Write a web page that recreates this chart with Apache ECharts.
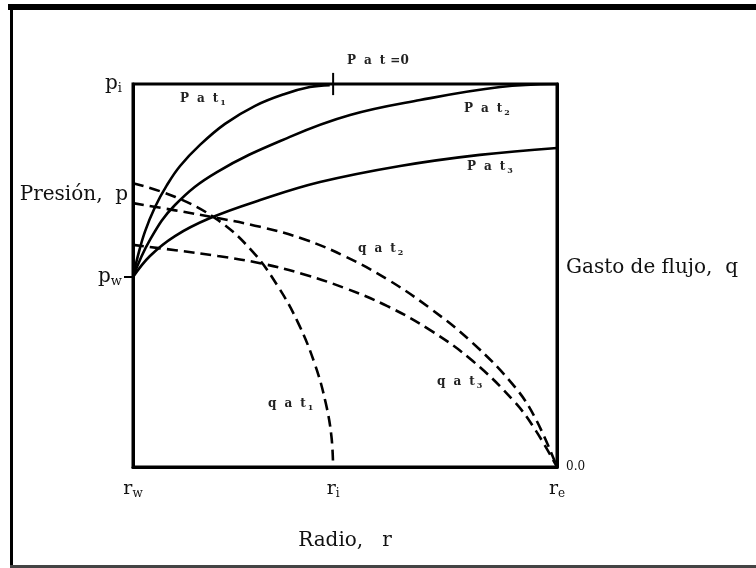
<!DOCTYPE html>
<html>
<head>
<meta charset="utf-8">
<style>
  html, body { margin: 0; padding: 0; background: #fff; }
  #chart { width: 756px; height: 568px; }
</style>
<script src="https://cdn.jsdelivr.net/npm/echarts@6/dist/echarts.min.js"></script>
</head>
<body>
<div id="chart"></div>
<script>
// Radius is normalised: r_w = 0, r_e = 1. Pressure/flow normalised: 0 at the bottom, p_i = 1.
const radiusTicks = [0, 0.472, 1];           // r_w, r_i, r_e
const radiusTickNames = ['w', 'i', 'e'];
const pressureTicks = [0.496, 0.71, 1];      // p_w, "Presión, p", p_i
const flowTicks = [0, 0.52];                 // 0.0, "Gasto de flujo, q"

// Pressure profiles at three times (solid)
const patOne = [[0,0.496],[0.012,0.553],[0.028,0.614],[0.052,0.679],[0.080,0.736],[0.111,0.786],[0.158,0.841],[0.217,0.896],[0.288,0.943],[0.358,0.974],[0.417,0.992],[0.464,0.997]];
const patTwo = [[0,0.496],[0.040,0.593],[0.099,0.684],[0.198,0.770],[0.370,0.862],[0.512,0.919],[0.677,0.958],[0.866,0.992],[1,1]];
const patThree = [[0,0.496],[0.040,0.551],[0.099,0.603],[0.182,0.650],[0.300,0.697],[0.441,0.744],[0.630,0.786],[0.818,0.815],[1,0.833]];

// Flow-rate profiles at the same times (dashed)
const qatOne = [[0,0.741],[0.1,0.705],[0.2,0.645],[0.28,0.565],[0.34,0.475],[0.39,0.375],[0.43,0.265],[0.455,0.165],[0.468,0.080],[0.472,0]];
const qatTwo = [[0,0.689],[0.1,0.670],[0.2,0.650],[0.3,0.627],[0.4,0.596],[0.5,0.550],[0.6,0.490],[0.7,0.415],[0.8,0.325],[0.9,0.210],[0.95,0.125],[1,0]];
const qatThree = [[0,0.580],[0.1,0.566],[0.2,0.551],[0.3,0.532],[0.4,0.504],[0.5,0.467],[0.6,0.420],[0.7,0.358],[0.8,0.278],[0.9,0.170],[0.95,0.095],[1,0]];

// Short mark on the upper edge where the first pressure front reaches p_i
const frontMark = [[0.472, 1.029], [0.472, 0.971]];

const serif = '"DejaVu Serif", "Liberation Serif", serif';

function near(a, b) { return Math.abs(a - b) < 1e-6; }

function solid(data) {
  return { type: 'line', data, smooth: 0.4, showSymbol: false, silent: true,
    lineStyle: { color: '#000', width: 2.6, type: 'solid' } };
}
function dashed(data) {
  return { type: 'line', data, smooth: 0.4, showSymbol: false, silent: true,
    lineStyle: { color: '#000', width: 2.6, type: [11, 6] } };
}

// Letter-spaced bold label built from rich fragments, with an optional subscript
function spaced(letters, sub) {
  let s = letters.split('').map(function (c) { return '{b|' + c + '}'; }).join('{g|}');
  if (sub) s += '{s|' + sub + '}';
  return s;
}
const labelRich = {
  b: { fontFamily: serif, fontSize: 12, fontWeight: 'bold', fill: '#222' },
  g: { width: 8 },
  n: { width: 5 },
  s: { fontFamily: serif, fontSize: 8, fontWeight: 'bold', fill: '#222', padding: [8, 0, 0, 2] }
};
function curveLabel(x, y, letters, sub) {
  return { type: 'text', left: x, top: y, silent: true,
    style: { text: spaced(letters, sub), rich: labelRich } };
}

const chart = echarts.init(document.getElementById('chart'), null, { renderer: 'canvas' });

chart.setOption({
  animation: false,
  backgroundColor: '#fff',
  grid: { left: 133, top: 84, width: 424, height: 383, show: true,
          borderColor: '#000', borderWidth: 3, backgroundColor: 'transparent' },
  xAxis: {
    type: 'value', min: 0, max: 1,
    name: 'Radio,   r', nameLocation: 'middle', nameGap: 64,
    nameTextStyle: { fontFamily: serif, fontSize: 20, color: '#111' },
    axisLine: { lineStyle: { color: '#000', width: 3 } },
    splitLine: { show: false },
    axisTick: { show: false },
    axisLabel: {
      customValues: radiusTicks, margin: 12,
      formatter: function (v) {
        for (let i = 0; i < radiusTicks.length; i++) {
          if (near(v, radiusTicks[i])) return '{m|r}{s|' + radiusTickNames[i] + '}';
        }
        return '';
      },
      rich: {
        m: { fontFamily: serif, fontSize: 19, color: '#111' },
        s: { fontFamily: serif, fontSize: 12, color: '#111', padding: [9, 0, 0, 0] }
      }
    }
  },
  yAxis: [
    {
      type: 'value', min: 0, max: 1, position: 'left',
      axisLine: { lineStyle: { color: '#000', width: 3 } },
      splitLine: { show: false },
      axisTick: { show: true, customValues: [pressureTicks[0]], length: 9, inside: false,
                  lineStyle: { color: '#000', width: 2 } },
      axisLabel: {
        customValues: pressureTicks, margin: 5,
        formatter: function (v) {
          if (near(v, pressureTicks[0])) return '{m|p}{s|w}{g|}';
          if (near(v, pressureTicks[1])) return '{t|Presión,  p}';
          if (near(v, pressureTicks[2])) return '{m|p}{s|i}{g|}';
          return '';
        },
        rich: {
          m: { fontFamily: serif, fontSize: 20, color: '#111' },
          s: { fontFamily: serif, fontSize: 13, color: '#111', padding: [9, 0, 0, 0] },
          g: { width: 6 },
          t: { fontFamily: serif, fontSize: 20, color: '#111' }
        }
      }
    },
    {
      type: 'value', min: 0, max: 1, position: 'right',
      axisLine: { show: true, lineStyle: { color: '#000', width: 3 } },
      splitLine: { show: false },
      axisTick: { show: false },
      axisLabel: {
        customValues: flowTicks, margin: 9,
        formatter: function (v) {
          if (near(v, flowTicks[0])) return '{z|0.0}';
          if (near(v, flowTicks[1])) return '{t|Gasto de flujo,  q}';
          return '';
        },
        rich: {
          z: { fontFamily: serif, fontSize: 12, color: '#111' },
          t: { fontFamily: serif, fontSize: 20, color: '#111' }
        }
      }
    }
  ],
  series: [
    solid(patOne), solid(patTwo), solid(patThree),
    dashed(qatOne), dashed(qatTwo), dashed(qatThree),
    { type: 'line', data: frontMark, showSymbol: false, silent: true, clip: false,
      lineStyle: { color: '#000', width: 2 } }
  ],
  graphic: [
    // page frame
    { type: 'rect', silent: true, shape: { x: 8, y: 4, width: 748, height: 6 }, style: { fill: '#000' } },
    { type: 'rect', silent: true, shape: { x: 10, y: 4, width: 3, height: 564 }, style: { fill: '#000' } },
    { type: 'rect', silent: true, shape: { x: 10, y: 565, width: 746, height: 3 }, style: { fill: '#444' } },
    // curve names
    curveLabel(180, 93, 'Pat', '1'),
    curveLabel(464, 103, 'Pat', '2'),
    curveLabel(467, 161, 'Pat', '3'),
    curveLabel(358, 243, 'qat', '2'),
    curveLabel(268, 398, 'qat', '1'),
    curveLabel(437, 376, 'qat', '3'),
    { type: 'text', left: 347, top: 55, silent: true,
      style: { text: spaced('Pat', '') + '{n|}{b|=0}', rich: labelRich } }
  ]
});
</script>
</body>
</html>
